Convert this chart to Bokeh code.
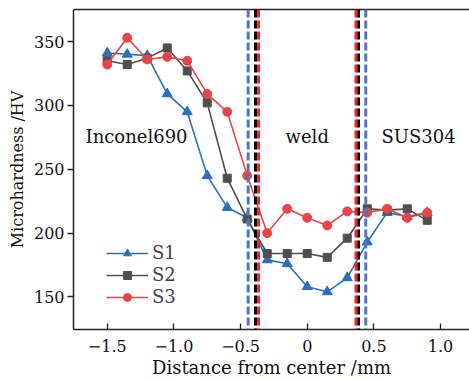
from bokeh.plotting import figure
from bokeh.models import Span, Label, LinearAxis, FixedTicker, Legend, LegendItem
from bokeh.embed import file_html
from bokeh.resources import INLINE

# ---- data ----
x = [-1.5, -1.35, -1.2, -1.05, -0.9, -0.75, -0.6, -0.45, -0.3, -0.15, 0.0, 0.15, 0.3, 0.45, 0.6, 0.75, 0.9]
s1 = [341, 340, 339, 309, 295, 245, 220, 212, 179, 176, 158, 154, 165, 193, 216, 213, 216]
s2 = [335, 332, 337, 345, 327, 302, 243, 211, 184, 184, 184, 181, 196, 219, 218, 219, 210]
s3 = [332, 353, 336, 338, 335, 309, 295, 245, 200, 219, 212, 206, 217, 216, 219, 212, 216]
series_names = ["S1", "S2", "S3"]

# fusion boundaries for each sample (S1 blue, S2 black, S3 red)
boundary_left = [-0.443, -0.388, -0.365]
boundary_right = [0.439, 0.385, 0.366]

region_names = ["Inconel690", "weld", "SUS304"]
region_x = [-1.28, 0.0, 0.835]
region_y = 276

x_ticks = [-1.5, -1.0, -0.5, 0.0, 0.5, 1.0]
x_tick_labels = ["\u22121.5", "\u22121.0", "\u22120.5", "0", "0.5", "1.0"]
y_ticks = [150, 200, 250, 300, 350]

FONT = "DejaVu Serif"
colors = ["#2b6fc2", "#4f4f4f", "#e8454a"]
dash_colors = ["#4a78c8", "#000000", "#e8262b"]

p = figure(width=469, height=380, x_range=(-1.753, 1.217), y_range=(124.5, 375.1),
           output_backend="svg", toolbar_location=None,
           x_axis_location=None, y_axis_location=None,
           min_border_left=73, min_border_right=0, min_border_top=9, min_border_bottom=49)
p.outline_line_color = None
p.xgrid.visible = False
p.ygrid.visible = False

bottom = LinearAxis(ticker=FixedTicker(ticks=x_ticks),
                    major_label_overrides={t: l for t, l in zip(x_ticks, x_tick_labels)},
                    axis_label="Distance from center /mm",
                    major_tick_in=6, major_tick_out=0, major_label_standoff=10,
                    axis_label_standoff=2)
left = LinearAxis(ticker=FixedTicker(ticks=y_ticks), axis_label="Microhardness /HV",
                  major_tick_in=0, major_tick_out=6, major_label_standoff=3,
                  axis_label_standoff=4)
for ax in (bottom, left):
    ax.axis_line_width = 1.5
    ax.axis_line_color = "#222222"
    ax.major_tick_line_color = "#222222"
    ax.major_tick_line_width = 1.3
    ax.minor_tick_line_color = None
    ax.major_label_text_font = FONT
    ax.major_label_text_font_size = "16px"
    ax.major_label_text_color = "#111111"
    ax.axis_label_text_font = FONT
    ax.axis_label_text_font_style = "normal"
    ax.axis_label_text_color = "#111111"
bottom.axis_label_text_font_size = "18px"
left.axis_label_text_font_size = "16px"
p.add_layout(bottom, "below")
p.add_layout(left, "left")

# top frame line
top = LinearAxis(ticker=FixedTicker(ticks=[]), major_tick_in=0, major_tick_out=0,
                 minor_tick_in=0, minor_tick_out=0, major_label_text_font_size="0px",
                 axis_line_width=1.5, axis_line_color="#222222", major_label_standoff=0)
p.add_layout(top, "above")

# boundary lines
for xs in (boundary_left, boundary_right):
    for bx, c in zip(xs, dash_colors):
        p.add_layout(Span(location=bx, dimension="height", line_color=c,
                          line_width=3, line_dash="8 3"))

renderers = []
for ys, c, name, marker, sz in zip([s1, s2, s3], colors, series_names,
                                   ["triangle", "square", "circle"], [10, 8, 9]):
    l = p.line(x, ys, line_color=c, line_width=1.6)
    m = p.scatter(x, ys, marker=marker, size=sz, fill_color=c, line_color=c)
    renderers.append([l, m])

for name, rx in zip(region_names, region_x):
    p.add_layout(Label(x=rx, y=region_y, text=name, text_font=FONT, text_font_size="18px",
                       text_align="center", text_baseline="middle", text_color="#111111"))

legend = Legend(items=[LegendItem(label=n, renderers=r) for n, r in zip(series_names, renderers)],
                location=(33, 22), label_text_font=FONT, label_text_font_size="18px",
                glyph_width=42, glyph_height=20, spacing=1, padding=0, margin=0,
                label_standoff=4, background_fill_alpha=0, border_line_color=None)
p.add_layout(legend, "center")

open("out.html", "w").write(file_html(p, INLINE))
